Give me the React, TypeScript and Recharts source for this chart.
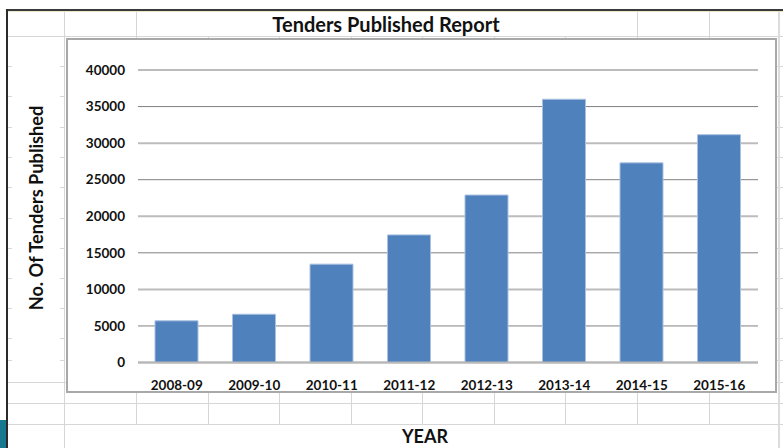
import { BarChart, Bar, XAxis, YAxis, CartesianGrid } from "recharts";

const years = ["2008-09", "2009-10", "2010-11", "2011-12", "2012-13", "2013-14", "2014-15", "2015-16"];
const tendersPublished = [5700, 6600, 13450, 17450, 22900, 36000, 27300, 31150];
const yTicks = [0, 5000, 10000, 15000, 20000, 25000, 30000, 35000, 40000];

const data = years.map((year, i) => ({ year, tenders: tendersPublished[i] }));

// spreadsheet cells behind the chart object
const sheetCols = [64, 136, 208, 279, 351, 422, 494, 565, 637, 709];
const sheetRows = [36, 66, 96, 127, 157, 187, 218, 248, 278, 308, 338, 360, 382, 403, 424];
const titleCellCols = [208, 279, 351, 422, 494, 565]; // hidden inside the merged title cell

const FONT = "Lato, 'Open Sans', sans-serif";
const cellLine = "#d6d6d6";

function SheetBackground() {
  return (
    <>
      {sheetRows.map((y) =>
        y > 36 && y < 382 ? (
          <div key={"r" + y}>
            <div style={{ position: "absolute", left: 8, top: y, width: 4, height: 1, background: cellLine }} />
            <div style={{ position: "absolute", left: 60, top: y, width: 4, height: 1, background: cellLine }} />
            <div style={{ position: "absolute", left: 776, top: y, width: 7, height: 1, background: cellLine }} />
          </div>
        ) : (
          <div key={"r" + y} style={{ position: "absolute", left: 8, top: y, width: 775, height: 1, background: cellLine }} />
        )
      )}
      {sheetCols.map((x) => {
        const top = titleCellCols.includes(x) ? 36 : 10;
        const bottom = x === 64 ? 448 : 424;
        return (
          <div
            key={"c" + x}
            style={{ position: "absolute", left: x, top, width: 1, height: bottom - top, background: cellLine }}
          />
        );
      })}
      <div style={{ position: "absolute", left: 778, top: 10, width: 2, height: 438, background: "#dcdcdc" }} />
      <div style={{ position: "absolute", left: 7, top: 9, width: 776, height: 2, background: "#3a3a3a" }} />
      <div style={{ position: "absolute", left: 7, top: 11, width: 776, height: 1, background: "#e8e6c8" }} />
      <div style={{ position: "absolute", left: 6, top: 9, width: 2, height: 439, background: "#2b2b2b" }} />
      <div style={{ position: "absolute", left: 0, top: 420, width: 6, height: 28, background: "#17788f" }} />
    </>
  );
}

function GridLine(props: any) {
  const { x1, x2, y1, y2, index } = props;
  const light = index % 2 === 0;
  return (
    <line
      key={"g" + index}
      x1={x1}
      x2={x2}
      y1={y1}
      y2={y2}
      stroke={light ? "#bcbcbc" : "#808080"}
      strokeWidth={light ? 2 : 1}
    />
  );
}

export default function App() {
  return (
    <div style={{ position: "relative", width: 783, height: 448, background: "#fff", overflow: "hidden", fontFamily: FONT }}>
      <style>{"body{margin:0}"}</style>
      <SheetBackground />

      <div
        style={{
          position: "absolute",
          left: 186,
          top: 12,
          width: 400,
          textAlign: "center",
          fontWeight: 700,
          fontSize: 20,
          color: "#111",
          lineHeight: "24px",
        }}
      >
        Tenders Published Report
      </div>

      <div
        style={{
          position: "absolute",
          left: 36 - 120,
          top: 208 - 11,
          width: 240,
          height: 22,
          lineHeight: "22px",
          textAlign: "center",
          transform: "rotate(-90deg)",
          fontWeight: 700,
          fontSize: 18.2,
          color: "#111",
        }}
      >
        No. Of Tenders Published
      </div>

      {/* chart object frame */}
      <div
        style={{
          position: "absolute",
          left: 66,
          top: 38,
          width: 707,
          height: 351,
          border: "2px solid #a8a8a8",
          background: "#fff",
        }}
      />

      <div
        style={{
          position: "absolute",
          left: 65,
          top: 425,
          width: 712,
          textAlign: "center",
          fontWeight: 700,
          fontSize: 18,
          color: "#111",
          lineHeight: "22px",
          paddingLeft: 4,
        }}
      >
        YEAR
      </div>

      <div style={{ position: "absolute", left: 0, top: 0 }}>
        <BarChart width={783} height={448} data={data} margin={{ top: 70, right: 25, left: 68, bottom: 55.5 }}>
          <CartesianGrid vertical={false} horizontal={GridLine} />
          <XAxis
            dataKey="year"
            height={30}
            axisLine={{ stroke: "#b8b8b8", strokeWidth: 2 }}
            tickLine={false}
            tickMargin={12}
            interval={0}
            tick={{ fill: "#111", fontSize: 13.5, fontWeight: 700, fontFamily: FONT }}
          />
          <YAxis
            width={70}
            domain={[0, 40000]}
            ticks={yTicks}
            axisLine={false}
            tickLine={false}
            tickMargin={7}
            tick={{ fill: "#111", fontSize: 13.5, fontWeight: 700, fontFamily: FONT }}
          />
          <Bar dataKey="tenders" fill="#4f81bd" stroke="#a9c0e0" strokeWidth={1} barSize={43} isAnimationActive={false} />
        </BarChart>
      </div>
    </div>
  );
}
